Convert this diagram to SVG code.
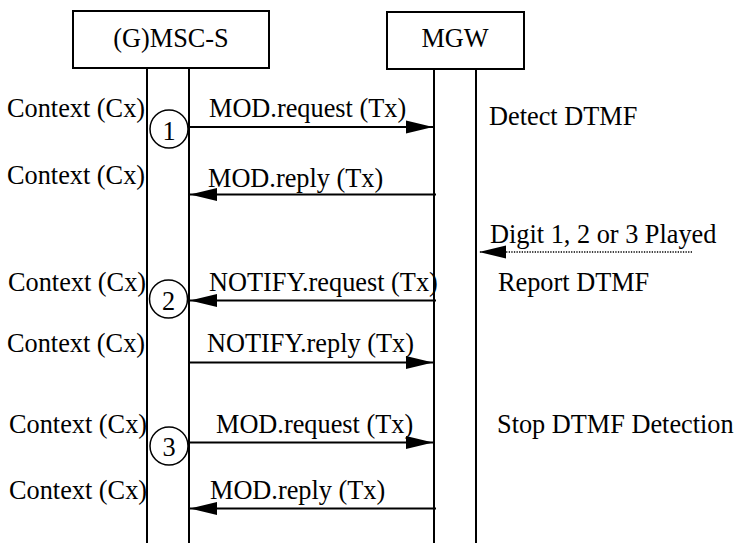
<svg xmlns="http://www.w3.org/2000/svg" width="739" height="543" viewBox="0 0 739 543">
<defs>
<style>
text{font-family:"Times New Roman",Times,"Liberation Serif",Tinos,"DejaVu Serif",serif;font-size:26.3px;fill:#000}
.box{fill:#fff;stroke:#000;stroke-width:2}
.life{stroke:#000;stroke-width:2;fill:none}
.msg{stroke:#000;stroke-width:2;fill:none;marker-end:url(#ah)}
.dot{stroke:#000;stroke-width:1.3;stroke-dasharray:1.3 1.3;fill:none;marker-end:url(#ah)}
.num{fill:#fff;stroke:#000;stroke-width:1.5}
.c{text-anchor:middle}
</style>
<marker id="ah" markerUnits="userSpaceOnUse" markerWidth="27" markerHeight="14" refX="27" refY="7" orient="auto">
<path d="M0,0.5 L27,7 L0,13.5 z" fill="#000"/>
</marker>
</defs>
<rect width="739" height="543" fill="#fff"/>
<g id="msc">
<rect class="box" x="73" y="11" width="196" height="57"/>
<text class="c" x="171" y="47">(G)MSC-S</text>
<line class="life" x1="147" y1="68" x2="147" y2="543"/>
<line class="life" x1="189" y1="68" x2="189" y2="543"/>
</g>
<g id="mgw">
<rect class="box" x="387" y="12" width="137" height="57"/>
<text class="c" x="455" y="47">MGW</text>
<line class="life" x1="434" y1="69" x2="434" y2="543"/>
<line class="life" x1="476" y1="69" x2="476" y2="543"/>
</g>
<g id="contexts">
<text x="7" y="117">Context (Cx)</text>
<text x="7" y="184">Context (Cx)</text>
<text x="8" y="291">Context (Cx)</text>
<text x="7" y="352">Context (Cx)</text>
<text x="9" y="433">Context (Cx)</text>
<text x="9" y="499">Context (Cx)</text>
</g>
<g id="step1">
<circle class="num" cx="169" cy="129" r="19"/>
<text class="c" x="169" y="140">1</text>
</g>
<g id="step2">
<circle class="num" cx="168.5" cy="299" r="19"/>
<text class="c" x="168.5" y="310">2</text>
</g>
<g id="step3">
<circle class="num" cx="169" cy="446" r="19"/>
<text class="c" x="169" y="456">3</text>
</g>
<g id="notes">
<text x="489" y="125">Detect DTMF</text>
<text x="498" y="291">Report DTMF</text>
<text x="497" y="433">Stop DTMF Detection</text>
</g>
<g id="connectors">
<line class="msg" x1="189" y1="127" x2="433" y2="127"/>
<text x="209" y="117">MOD.request (Tx)</text>
<line class="msg" x1="436" y1="194.5" x2="190" y2="194.5"/>
<text x="208" y="187">MOD.reply (Tx)</text>
<line class="dot" x1="692" y1="252" x2="479" y2="252"/>
<text x="490" y="243">Digit 1, 2 or 3 Played</text>
<line class="msg" x1="436" y1="300.5" x2="190" y2="300.5"/>
<text x="209" y="291">NOTIFY.request (Tx)</text>
<line class="msg" x1="189" y1="362.5" x2="433" y2="362.5"/>
<text x="207" y="352">NOTIFY.reply (Tx)</text>
<line class="msg" x1="189" y1="442.5" x2="433" y2="442.5"/>
<text x="216" y="433">MOD.request (Tx)</text>
<line class="msg" x1="436" y1="508.5" x2="190" y2="508.5"/>
<text x="210" y="499">MOD.reply (Tx)</text>
</g>
</svg>
